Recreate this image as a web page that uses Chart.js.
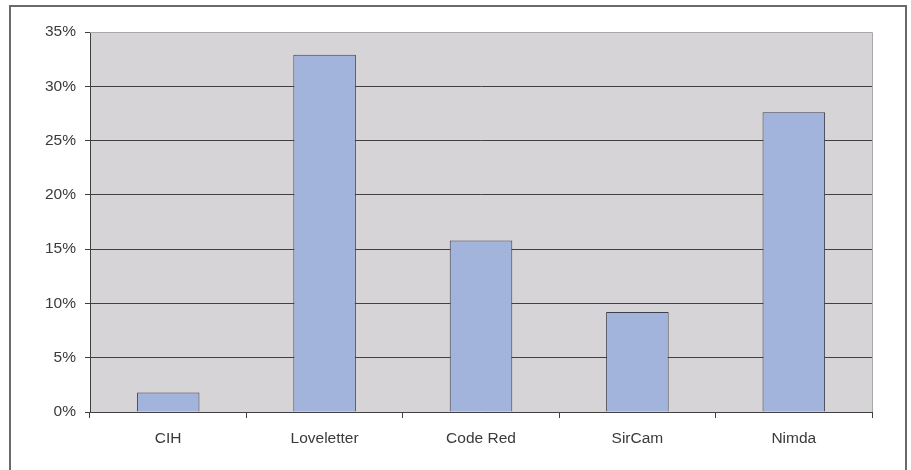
<!DOCTYPE html>
<html>
<head>
<meta charset="utf-8">
<script src="https://cdn.jsdelivr.net/npm/chart.js@4/dist/chart.umd.min.js"></script>
<style>
  html, body { margin: 0; padding: 0; background: #ffffff; overflow: hidden; }
  #wrap { position: relative; width: 911px; height: 470px; overflow: hidden; }
  #frame { position: absolute; left: 9px; top: 5px; width: 894px; height: 480px; border: 2px solid #6a6a6a; pointer-events: none; }
  canvas { position: absolute; left: 0; top: 0; }
</style>
</head>
<body>
<div id="wrap">
  <canvas id="chart" width="911" height="470"></canvas>
  <div id="frame"></div>
</div>
<script>
// Share of infections by worm/virus (percent)
const categories = ['CIH', 'Loveletter', 'Code Red', 'SirCam', 'Nimda'];
const shares = [1.8, 32.9, 15.8, 9.2, 27.6];
const yTicks = [0, 5, 10, 15, 20, 25, 30, 35];

// Grey plot background plus light top/right edges
const plotBackdrop = {
  id: 'plotBackdrop',
  beforeDraw(chart) {
    const { ctx, chartArea: a } = chart;
    ctx.save();
    ctx.fillStyle = '#d6d4d7';
    ctx.fillRect(a.left, a.top, a.right - a.left, a.bottom - a.top);
    ctx.restore();
  },
  afterDatasetsDraw(chart) {
    const { ctx, chartArea: a } = chart;
    ctx.save();
    ctx.strokeStyle = '#a8a8a8';
    ctx.lineWidth = 1;
    ctx.beginPath();
    ctx.moveTo(a.left, a.top + 0.5);
    ctx.lineTo(a.right + 0.5, a.top + 0.5);
    ctx.lineTo(a.right + 0.5, a.bottom);
    ctx.stroke();
    ctx.restore();
  }
};

const labelFont = { family: 'Liberation Sans', size: 15.5 };

new Chart(document.getElementById('chart'), {
  type: 'bar',
  data: {
    labels: categories,
    datasets: [{
      data: shares,
      backgroundColor: '#a3b4dc',
      borderColor: '#3c3f4c',
      borderWidth: 1,
      categoryPercentage: 1,
      barPercentage: 0.4
    }]
  },
  plugins: [plotBackdrop],
  options: {
    responsive: false,
    animation: false,
    layout: { padding: { left: 10, top: 32, right: 39, bottom: 10 } },
    plugins: { legend: { display: false }, tooltip: { enabled: false } },
    scales: {
      x: {
        grid: {
          display: true,
          drawOnChartArea: false,
          drawTicks: true,
          tickLength: 6,
          color: '#404040'
        },
        border: { color: '#404040', width: 1 },
        ticks: {
          color: '#3a3a3a',
          padding: 11,
          font: labelFont
        },
        afterFit(scale) { scale.height = 48; }
      },
      y: {
        min: 0,
        max: 35,
        afterBuildTicks(scale) { scale.ticks = yTicks.map(v => ({ value: v })); },
        grid: {
          color: ctx => (ctx.tick && ctx.tick.value === 35) ? '#a8a8a8' : '#404040',
          tickLength: 5,
          tickColor: '#404040'
        },
        border: { color: '#404040', width: 1 },
        ticks: {
          color: '#3a3a3a',
          padding: 9,
          font: labelFont,
          callback: v => v + '%'
        },
        afterFit(scale) { scale.width = 80; }
      }
    }
  }
});
</script>
</body>
</html>
